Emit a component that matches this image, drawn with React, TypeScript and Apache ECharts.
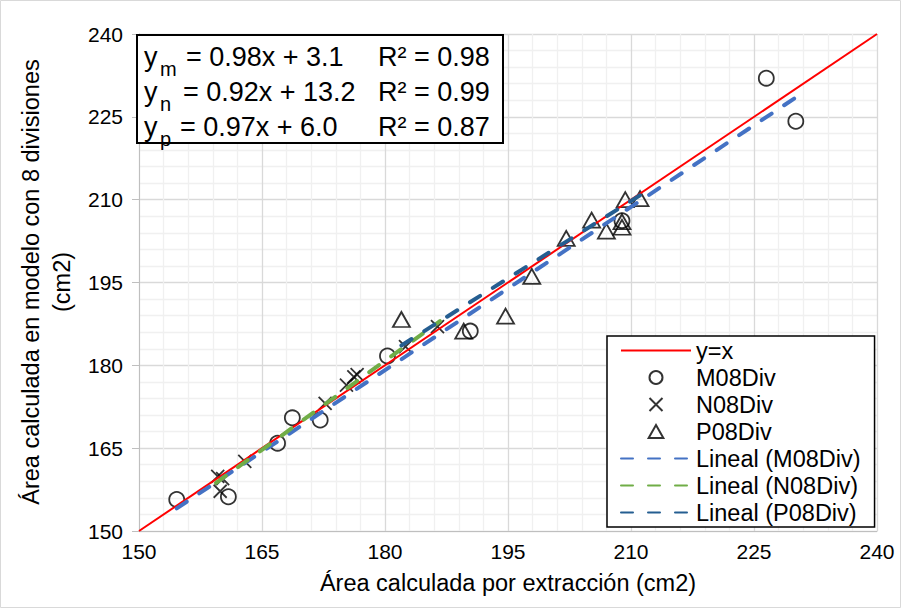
import { useEffect, useRef } from "react";
import * as echarts from "echarts";

// ---- data ----
const axisMin = 150;
const axisMax = 240;
const axisStep = 15;

const identityLine: number[][] = [
  [150, 150],
  [240, 240],
];

const m08Div: number[][] = [
  [154.6, 155.7],
  [160.9, 156.2],
  [166.9, 165.9],
  [168.7, 170.5],
  [172.1, 170.1],
  [180.3, 181.7],
  [190.4, 186.2],
  [208.9, 206.2],
  [226.5, 232.0],
  [230.1, 224.2],
];

const n08Div: number[][] = [
  [159.6, 159.9],
  [160.2, 159.5],
  [159.9, 157.2],
  [162.9, 162.6],
  [172.7, 173.1],
  [175.3, 176.4],
  [176.2, 177.9],
  [176.6, 178.3],
  [182.5, 183.4],
  [186.4, 187.0],
];

const p08Div: number[][] = [
  [182.0, 188.3],
  [189.6, 186.2],
  [194.7, 188.9],
  [197.9, 196.1],
  [202.1, 203.0],
  [205.2, 206.3],
  [207.0, 204.3],
  [208.9, 205.0],
  [208.9, 206.0],
  [209.3, 210.0],
  [211.1, 210.2],
];

const trendM: number[][] = [
  [154.6, 154.1],
  [230.1, 228.5],
];
const trendN: number[][] = [
  [159.4, 158.7],
  [186.7, 188.0],
];
const trendP: number[][] = [
  [182.0, 183.6],
  [211.1, 210.8],
];

const seriesNames = [
  "y=x",
  "M08Div",
  "N08Div",
  "P08Div",
  "Lineal (M08Div)",
  "Lineal (N08Div)",
  "Lineal (P08Div)",
];

const eqSubs = ["m", "n", "p"];
const eqBodies = ["= 0.98x + 3.1", "= 0.92x + 13.2", "= 0.97x + 6.0"];
const eqR2 = ["R² = 0.98", "R² = 0.99", "R² = 0.87"];

const xTitle = "Área calculada por extracción (cm2)";
const yTitle = "Área calculada en modelo con 8 divisiones\n(cm2)";

const triangleSymbol = "path://M8.5 0L17 15L0 15Z";
const crossSymbol = "path://M0 0L10 10M10 0L0 10";

export default function App() {
  const ref = useRef<HTMLDivElement>(null);

  useEffect(() => {
    document.body.style.margin = "0";
    const chart = echarts.init(ref.current!, null, { renderer: "svg" });
    const font = "'Liberation Sans', Arial, sans-serif";

    const axisBase = {
      type: "value",
      min: axisMin,
      max: axisMax,
      interval: axisStep,
      axisLine: { show: true, lineStyle: { color: "#bfbfbf", width: 1 } },
      splitLine: { show: true, lineStyle: { color: "#d9d9d9", width: 1.3 } },
      minorTick: { show: false, splitNumber: 5 },
      minorSplitLine: { show: true, lineStyle: { color: "#f0f0f0", width: 1.3 } },
      axisLabel: { color: "#000", fontFamily: font, fontSize: 21 },
    };

    const trendStyle = (color: string) => ({
      color,
      width: 4,
      type: [12, 15],
      cap: "round",
    });

    const markerStyle = { color: "rgba(0,0,0,0)", borderColor: "#000", borderWidth: 1.8 };

    const eqGraphics: any[] = [];
    const eqRowY = [57, 92, 127];
    const bodyX = [186, 183, 180];
    eqRowY.forEach((cy, i) => {
      eqGraphics.push({
        type: "text",
        z: 101,
        x: 144,
        y: cy,
        style: { text: "y", font: `27px ${font}`, fill: "#000", textAlign: "left", textVerticalAlign: "middle" },
      });
      eqGraphics.push({
        type: "text",
        z: 101,
        x: 160,
        y: cy + 12,
        style: { text: eqSubs[i], font: `20px ${font}`, fill: "#000", textAlign: "left", textVerticalAlign: "middle" },
      });
      eqGraphics.push({
        type: "text",
        z: 101,
        x: bodyX[i],
        y: cy,
        style: { text: eqBodies[i], font: `27px ${font}`, fill: "#000", textAlign: "left", textVerticalAlign: "middle" },
      });
      eqGraphics.push({
        type: "text",
        z: 101,
        x: 378,
        y: cy,
        style: { text: eqR2[i], font: `27px ${font}`, fill: "#000", textAlign: "left", textVerticalAlign: "middle" },
      });
    });

    const hiddenSymbol = { opacity: 0 };

    chart.setOption({
      animation: false,
      backgroundColor: "#fff",
      textStyle: { fontFamily: font },
      grid: { left: 139, right: 25, top: 34, bottom: 78, containLabel: false },
      xAxis: {
        ...axisBase,
        axisTick: { show: false },
        axisLabel: { ...axisBase.axisLabel, margin: 10 },
        name: xTitle,
        nameLocation: "middle",
        nameGap: 40,
        nameTextStyle: { color: "#000", fontFamily: font, fontSize: 23.5 },
      },
      yAxis: {
        ...axisBase,
        axisTick: { show: true, length: 7, lineStyle: { color: "#bfbfbf" } },
        axisLabel: { ...axisBase.axisLabel, margin: 16 },
      },
      legend: {
        orient: "vertical",
        left: 607,
        top: 336,
        padding: [1, 14, 1, 13],
        itemWidth: 70,
        itemHeight: 13,
        itemGap: 0,
        borderColor: "#000",
        borderWidth: 1.5,
        backgroundColor: "#fff",
        data: [
          { name: seriesNames[0], itemStyle: hiddenSymbol },
          { name: seriesNames[1] },
          { name: seriesNames[2] },
          { name: seriesNames[3], icon: triangleSymbol },
          { name: seriesNames[4], itemStyle: hiddenSymbol },
          { name: seriesNames[5], itemStyle: hiddenSymbol },
          { name: seriesNames[6], itemStyle: hiddenSymbol },
        ],
        textStyle: { color: "#000", fontFamily: font, fontSize: 23.5, lineHeight: 27 },
      },
      graphic: [
        {
          type: "rect",
          z: 0,
          shape: { x: 0.5, y: 0.5, width: 900, height: 607 },
          style: { fill: "none", stroke: "#d9d9d9", lineWidth: 1 },
          silent: true,
        },
        {
          type: "rect",
          z: 100,
          shape: { x: 137, y: 35, width: 366, height: 108 },
          style: { fill: "#fff", stroke: "#000", lineWidth: 2 },
        },
        ...eqGraphics,
        {
          type: "text",
          z: 100,
          x: 46,
          y: 282,
          rotation: Math.PI / 2,
          style: {
            text: yTitle,
            font: `23.5px ${font}`,
            lineHeight: 31,
            fill: "#000",
            textAlign: "center",
            textVerticalAlign: "middle",
          },
        },
      ],
      series: [
        {
          name: seriesNames[0],
          type: "line",
          data: identityLine,
          symbol: "none",
          lineStyle: { color: "#ff0000", width: 2 },
          itemStyle: { color: "#ff0000" },
        },
        {
          name: seriesNames[1],
          type: "scatter",
          data: m08Div,
          symbol: "circle",
          symbolSize: 15,
          itemStyle: markerStyle,
        },
        {
          name: seriesNames[2],
          type: "scatter",
          data: n08Div,
          symbol: crossSymbol,
          symbolSize: 13,
          itemStyle: markerStyle,
        },
        {
          name: seriesNames[3],
          type: "scatter",
          data: p08Div,
          symbol: triangleSymbol,
          symbolSize: [17, 15],
          itemStyle: markerStyle,
        },
        {
          name: seriesNames[4],
          type: "line",
          data: trendM,
          symbol: "none",
          lineStyle: trendStyle("#4472c4"),
          itemStyle: { color: "#4472c4" },
        },
        {
          name: seriesNames[5],
          type: "line",
          data: trendN,
          symbol: "none",
          lineStyle: trendStyle("#70ad47"),
          itemStyle: { color: "#70ad47" },
        },
        {
          name: seriesNames[6],
          type: "line",
          data: trendP,
          symbol: "none",
          lineStyle: trendStyle("#255e91"),
          itemStyle: { color: "#255e91" },
        },
      ],
    });

    return () => chart.dispose();
  }, []);

  return <div ref={ref} style={{ width: 902, height: 609 }} />;
}
